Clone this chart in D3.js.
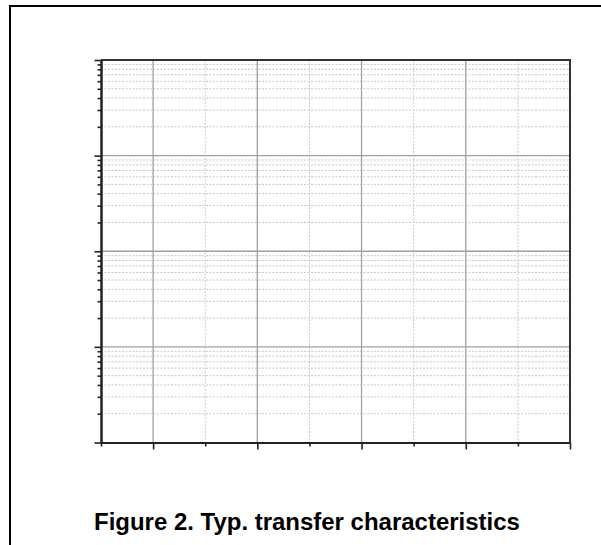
<!DOCTYPE html>
<html><head><meta charset="utf-8">
<script src="https://cdn.jsdelivr.net/npm/d3@7"></script>
<style>body{margin:0;background:#fff}svg{display:block}</style>
</head><body>
<svg id="c" width="601" height="545"></svg>
<script>
// Data (empty chart template)
const xDomain = [-0.5, 4];
const xMajorTicks = [0, 1, 2, 3, 4];
const xMinorTicks = [-0.5, 0.5, 1.5, 2.5, 3.5];
const yDomain = [1, 10000];
const yMajorTicks = [1, 10, 100, 1000, 10000];
const yMinorFactors = [2, 3, 4, 5, 6, 7, 8, 9];
const titleText = "Figure 2. Typ. transfer characteristics";

const svg = d3.select("#c");
const L = 101, R = 570, T = 60, B = 442.5;
const x = d3.scaleLinear().domain(xDomain).range([L, R]);
const y = d3.scaleLog().domain(yDomain).range([B, T]);

const yMinor = [];
yMajorTicks.slice(0, -1).forEach(d => yMinorFactors.forEach(f => yMinor.push(d * f)));

// outer frame
svg.append("line").attr("x1", 9).attr("x2", 601).attr("y1", 6).attr("y2", 6).attr("stroke", "#000").attr("stroke-width", 2);
svg.append("line").attr("x1", 10).attr("x2", 10).attr("y1", 5).attr("y2", 545).attr("stroke", "#000").attr("stroke-width", 2);

const g = svg.append("g");
// minor grid
g.selectAll(".hm").data(yMinor).join("line")
  .attr("x1", L).attr("x2", R).attr("y1", d => y(d)).attr("y2", d => y(d))
  .attr("stroke", "#c8c8c8").attr("stroke-width", 1).attr("stroke-dasharray", "2,1.5");
g.selectAll(".vm").data(xMinorTicks.slice(1)).join("line")
  .attr("x1", d => x(d)).attr("x2", d => x(d)).attr("y1", T).attr("y2", B)
  .attr("stroke", "#c8c8c8").attr("stroke-width", 1).attr("stroke-dasharray", "2,1.5");
// major grid
g.selectAll(".hM").data(yMajorTicks.slice(1, -1)).join("line")
  .attr("x1", L).attr("x2", R).attr("y1", d => y(d)).attr("y2", d => y(d))
  .attr("stroke", "#a0a0a0").attr("stroke-width", 1.3);
g.selectAll(".vM").data(xMajorTicks.slice(0, -1)).join("line")
  .attr("x1", d => x(d)).attr("x2", d => x(d)).attr("y1", T).attr("y2", B)
  .attr("stroke", "#a0a0a0").attr("stroke-width", 1.3);

// axes
const ax = d3.axisBottom(x).tickValues(xMajorTicks).tickFormat("").tickSize(7).tickSizeOuter(0);
const axm = d3.axisBottom(x).tickValues(xMinorTicks).tickFormat("").tickSize(4).tickSizeOuter(0);
const ay = d3.axisLeft(y).tickValues(yMajorTicks).tickFormat("").tickSize(6.5).tickSizeOuter(0);
const aym = d3.axisLeft(y).tickValues(yMinor).tickFormat("").tickSize(3.5).tickSizeOuter(0);
function style(sel){ sel.selectAll("path").attr("stroke","#222").attr("stroke-width",2); sel.selectAll("line").attr("stroke","#222").attr("stroke-width",1.6); }
svg.append("g").attr("transform", `translate(0,${B})`).call(ax).call(style);
svg.append("g").attr("transform", `translate(0,${B})`).call(axm).call(style);
svg.append("g").attr("transform", `translate(${L},0)`).call(ay).call(style);
svg.append("g").attr("transform", `translate(${L},0)`).call(aym).call(style);
// top and right border
svg.append("line").attr("x1", L).attr("x2", R+1).attr("y1", T).attr("y2", T).attr("stroke", "#333").attr("stroke-width", 2);
svg.append("line").attr("x1", R).attr("x2", R).attr("y1", T).attr("y2", B).attr("stroke", "#333").attr("stroke-width", 2);

const title = svg.append("text").attr("x", 94).attr("y", 530)
  .attr("font-family", "Liberation Sans, Arial, sans-serif").attr("font-weight", "bold").attr("font-size", 100)
  .attr("fill", "#000").text(titleText);
// fit font size to the reference title width (~426px)
const w = title.node().getComputedTextLength();
title.attr("font-size", Math.min(24, 100 * 426 / w));
</script>
</body></html>
